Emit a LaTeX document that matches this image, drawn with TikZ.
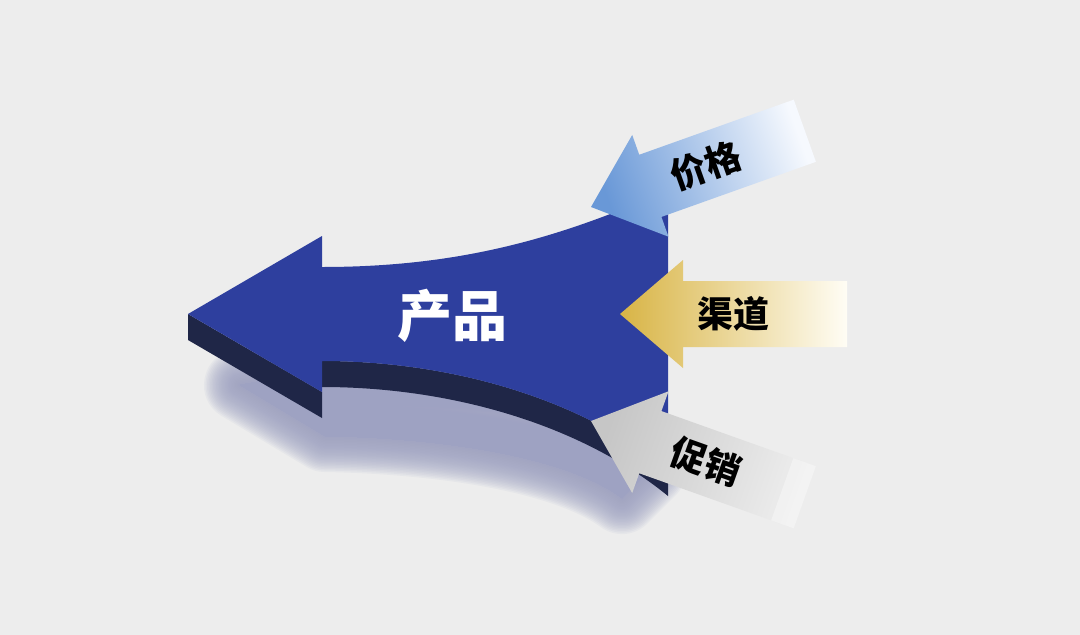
\documentclass[tikz,border=0pt]{standalone}
\usepackage{fontspec}
\newfontfamily\cjk{Noto Sans CJK SC}
\definecolor{bg}{RGB}{237,237,237}
\definecolor{topface}{RGB}{46,63,158}
\definecolor{sideface}{RGB}{31,38,71}
\definecolor{shadowc}{RGB}{158,162,194}
\definecolor{blueA}{RGB}{105,152,215}
\definecolor{blueB}{RGB}{190,212,240}
\definecolor{blueC}{RGB}{246,249,254}
\definecolor{goldA}{RGB}{216,180,69}
\definecolor{goldB}{RGB}{239,220,160}
\definecolor{goldC}{RGB}{255,253,245}
\definecolor{greyA}{RGB}{198,198,198}
\definecolor{greyB}{RGB}{222,222,222}
\definecolor{greyC}{RGB}{238,238,238}
\tikzset{
  smalllabel/.style={font=\cjk\bfseries\fontsize{36}{36}\selectfont, text=black, inner sep=0pt},
  biglabel/.style={font=\cjk\bfseries\fontsize{55}{55}\selectfont, text=white, inner sep=0pt},
  shadowlayer/.style={fill=shadowc, draw=shadowc, opacity=0.09, line join=round},
}
\begin{document}
\begin{tikzpicture}[x=1pt,y=-1pt]
\useasboundingbox (0,0) rectangle (1080,635);
\fill[bg] (0,0) rectangle (1080,635);
% soft shadow
\foreach \w in {72,69,...,0}{
  \path[shadowlayer, line width=\w pt]
    (240,385) -- (325,436) .. controls (440,438) and (565,456) .. (622,498)
    -- (650,470) -- (600,380) -- (322,370) -- cycle;
}
% extruded side (visible sweeps of the lower edges)
\fill[sideface] (188,314) -- (188,340) -- (322,418) -- (322,392) -- cycle;
\fill[sideface] (322,361) .. controls (450,361) and (580,398) .. (668,470)
  -- (668,496) .. controls (580,424) and (450,387) .. (322,387) -- cycle;
% top face
\fill[topface] (188,314) -- (322,236) -- (322,267) .. controls (460,267) and (560,238) .. (668,190)
  -- (668,470) .. controls (580,398) and (450,361) .. (322,361) -- (322,392) -- cycle;
\node[biglabel] (prod) at (452,316) {产品};
% price arrow
\begin{scope}[shift={(591,207)}, x={(0.942pt,0.336pt)}, y={(0.336pt,-0.942pt)}]
  \shade[left color=blueA, middle color=blueB, right color=blueC, shading angle=109.6]
    (0,0) -- (63,-54) -- (63,-33) -- (227,-33) -- (227,33) -- (63,33) -- (63,54) -- cycle;
  \node[smalllabel, rotate=19.6] (price) at (122,0) {价格};
\end{scope}
% channel arrow
\begin{scope}[shift={(620,314)}]
  \shade[left color=goldA, middle color=goldB, right color=goldC, shading angle=90]
    (0,0) -- (63,-54) -- (63,-33) -- (227,-33) -- (227,33) -- (63,33) -- (63,54) -- cycle;
  \node[smalllabel] (channel) at (113,0) {渠道};
\end{scope}
% promotion arrow
\begin{scope}[shift={(591,421)}, x={(0.942pt,-0.336pt)}, y={(0.336pt,0.942pt)}]
  \shade[left color=greyA, middle color=greyB, right color=greyC, shading angle=70.4]
    (0,0) -- (63,-54) -- (63,-33) -- (227,-33) -- (227,33) -- (63,33) -- (63,54) -- cycle;
  \fill[white, opacity=0.3] (203,-33) -- (227,-33) -- (227,33) -- (203,33) -- cycle;
  \node[smalllabel, rotate=-19.6] (promo) at (122,0) {促销};
\end{scope}
\end{tikzpicture}
\end{document}
